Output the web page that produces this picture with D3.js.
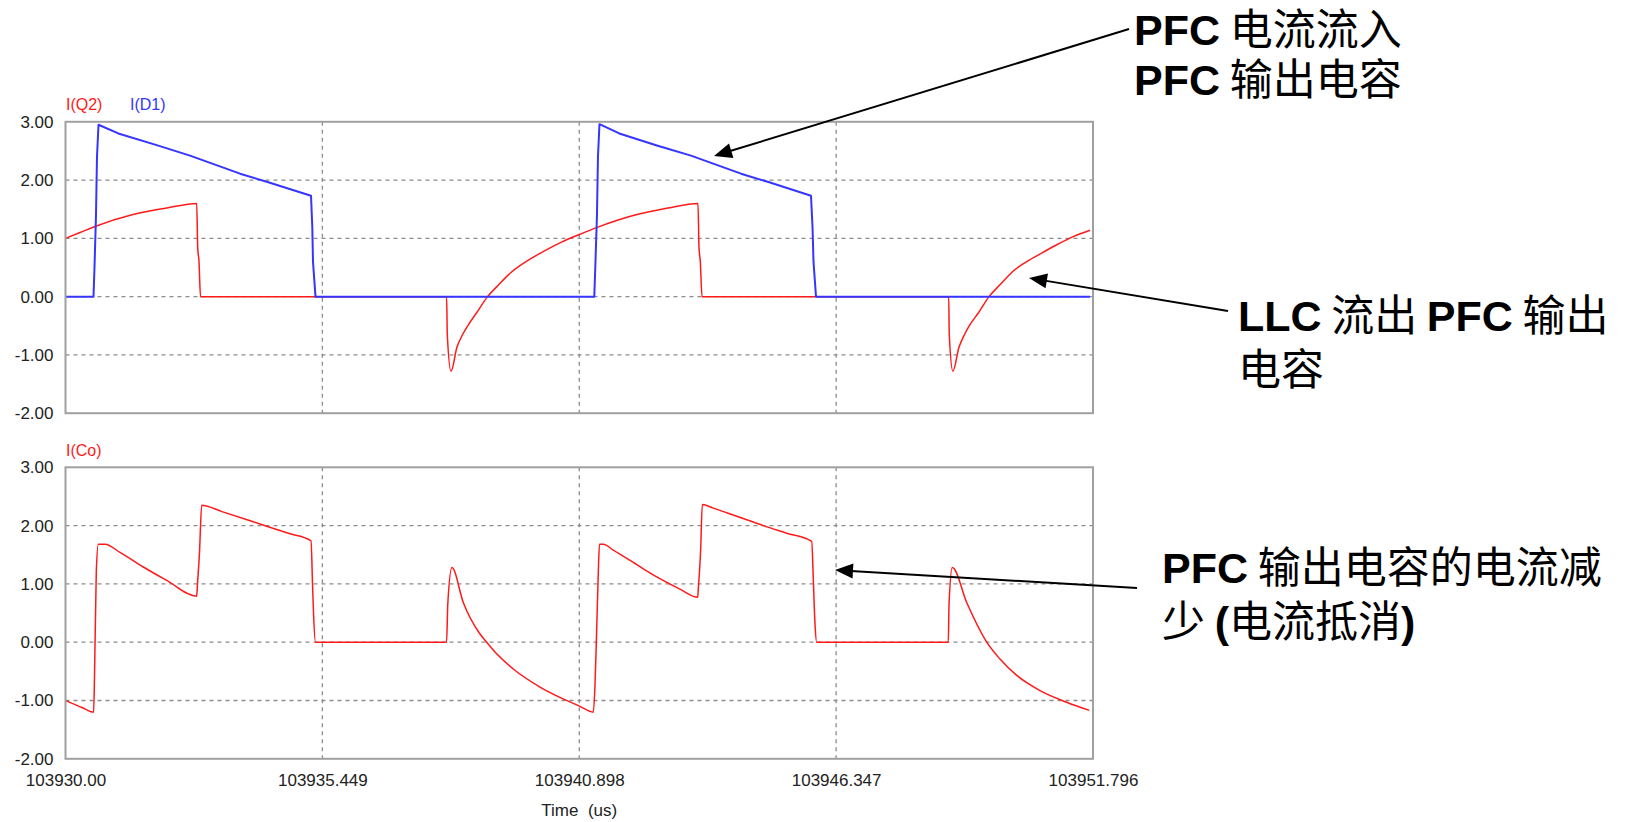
<!DOCTYPE html>
<html><head><meta charset="utf-8">
<script src="https://cdn.jsdelivr.net/npm/d3@7"></script>
<style>
html,body{margin:0;padding:0;background:#fff;}
svg{display:block;}
</style></head>
<body>
<svg id="chart" width="1632" height="822"></svg>
<script>
// ---------- data ----------
const timeDomain = [103930.00, 103951.796];
const xTickValues = [103930.00, 103935.449, 103940.898, 103946.347, 103951.796];
const xTickLabels = ["103930.00", "103935.449", "103940.898", "103946.347", "103951.796"];
const yTickValues = [-2, -1, 0, 1, 2, 3];
const yTickLabels = ["-2.00", "-1.00", "0.00", "1.00", "2.00", "3.00"];
const xAxisTitle = "Time  (us)";

// I(D1) – top panel, blue
const d1Time = [103930.000, 103930.594, 103930.615, 103930.647, 103930.668, 103930.700, 103931.120, 103931.935,
  103932.641, 103933.702, 103934.268, 103935.208, 103935.235, 103935.250, 103935.303,
  103941.217, 103941.238, 103941.274, 103941.295, 103941.327, 103941.747, 103942.562,
  103943.268, 103944.329, 103944.895, 103945.814, 103945.846, 103945.867, 103945.920, 103951.732];
const d1Value = [0, 0, 0.5, 1.4, 2.4, 2.95, 2.80, 2.60,
  2.42, 2.11, 1.97, 1.73, 1.2, 0.6, 0,
  0, 0.5, 1.4, 2.4, 2.96, 2.80, 2.59,
  2.42, 2.11, 1.97, 1.73, 1.2, 0.6, 0, 0];

// I(Q2) – top panel, red
const q2Time = [103930.000, 103930.308, 103930.611, 103931.432, 103932.147, 103932.783, 103932.804, 103932.832, 103932.864,
  103938.084, 103938.099, 103938.178, 103938.303, 103938.424, 103938.549, 103938.710, 103938.954,
  103939.196, 103939.444, 103939.768, 103940.171, 103940.532, 103940.914, 103941.253, 103942.080, 103942.780,
  103943.417, 103943.438, 103943.466, 103943.502,
  103948.735, 103948.747, 103948.824, 103948.953, 103949.070, 103949.186, 103949.356, 103949.590,
  103949.844, 103950.105, 103950.389, 103950.735, 103951.026, 103951.378, 103951.732];
const q2Value = [1.00, 1.10, 1.20, 1.41, 1.52, 1.60, 0.85, 0.60, 0,
  0, -0.65, -1.28, -0.87, -0.65, -0.48, -0.29, 0,
  0.21, 0.41, 0.60, 0.79, 0.94, 1.07, 1.18, 1.40, 1.52,
  1.60, 0.85, 0.60, 0,
  0, -0.65, -1.28, -0.87, -0.65, -0.48, -0.29, 0,
  0.22, 0.44, 0.60, 0.76, 0.89, 1.03, 1.14];

// I(Co) – bottom panel, red
const coTime = [103930.000, 103930.350, 103930.596, 103930.613, 103930.653, 103930.696, 103930.838, 103931.156,
  103931.650, 103932.147, 103932.783, 103932.800, 103932.843, 103932.889, 103933.320, 103934.268,
  103934.762, 103935.208, 103935.240, 103935.261, 103935.303,
  103938.084, 103938.109, 103938.198, 103938.438, 103938.793, 103938.935, 103939.147, 103939.499,
  103940.065, 103940.914, 103941.196, 103941.232, 103941.268, 103941.302, 103941.327, 103941.408,
  103941.620, 103942.117, 103942.541, 103943.035, 103943.411, 103943.424, 103943.474, 103943.508,
  103943.741, 103944.026, 103944.450, 103944.802, 103945.298, 103945.829, 103945.863, 103945.899, 103945.935,
  103948.727, 103948.742, 103948.812, 103949.117, 103949.542, 103949.823, 103950.178, 103950.672,
  103951.238, 103951.717];
const coValue = [-1.00, -1.12, -1.20, -0.70, 1.20, 1.68, 1.68, 1.54,
  1.29, 1.06, 0.79, 1.00, 1.55, 2.35, 2.24, 1.99,
  1.86, 1.74, 1.00, 0.50, 0,
  0, 0.65, 1.28, 0.68, 0.14, 0, -0.20, -0.46,
  -0.77, -1.10, -1.20, -0.74, 0.22, 1.19, 1.68, 1.68,
  1.58, 1.33, 1.12, 0.91, 0.77, 0.92, 1.60, 2.36,
  2.30, 2.22, 2.10, 2.00, 1.87, 1.73, 1.08, 0.31, 0,
  0, 0.65, 1.28, 0.68, 0, -0.29, -0.57, -0.83,
  -1.03, -1.17];

// annotations: each is a list of lines, each line a list of [text, isLatinBold]
const notes = [
  [[["PFC", true], [" 电流流入", false]],
   [["PFC", true], [" 输出电容", false]]],
  [[["LLC", true], [" 流出 ", false], ["PFC", true], [" 输出", false]],
   [["电容", false]]],
  [[["PFC", true], [" 输出电容的电流减", false]],
   [["少 ", false], ["(", true], ["电流抵消", false], [")", true]]]
];

// ---------- layout ----------
const svg = d3.select("#chart");
const plotLeft = 65.5, plotRight = 1093;
const panels = [
  { top: 121.8, bottom: 413.2 },
  { top: 467.3, bottom: 758.8 }
];
const RED = "#ff1a1a", BLUE = "#3535ff", FRAME = "#a0a0a0", GRID = "#8c8c8c", TXT = "#222";
const x = d3.scaleLinear().domain(timeDomain).range([plotLeft, plotRight]);

panels.forEach(p => {
  p.y = d3.scaleLinear().domain([-2, 3]).range([p.bottom, p.top]);
});

function drawPanel(p, showX) {
  const g = svg.append("g");
  g.selectAll(".hg").data(yTickValues.slice(1, -1)).enter().append("line")
    .attr("x1", plotLeft).attr("x2", plotRight)
    .attr("y1", d => p.y(d)).attr("y2", d => p.y(d))
    .attr("stroke", GRID).attr("stroke-width", 1.3).attr("stroke-dasharray", "4,4");
  g.selectAll(".vg").data(xTickValues.slice(1, -1)).enter().append("line")
    .attr("x1", d => x(d)).attr("x2", d => x(d))
    .attr("y1", p.top).attr("y2", p.bottom)
    .attr("stroke", GRID).attr("stroke-width", 1.3).attr("stroke-dasharray", "4,4");
  const ya = d3.axisLeft(p.y).tickValues(yTickValues)
    .tickFormat((d, i) => yTickLabels[i]).tickSize(0).tickPadding(12);
  const yg = g.append("g").attr("transform", `translate(${plotLeft},0)`).call(ya);
  yg.select(".domain").remove();
  yg.selectAll("text").attr("font-family", "Liberation Sans, Arial, sans-serif")
    .attr("font-size", 17).attr("fill", TXT);
  if (showX) {
    const xa = d3.axisBottom(x).tickValues(xTickValues)
      .tickFormat((d, i) => xTickLabels[i]).tickSize(0).tickPadding(15);
    const xg = g.append("g").attr("transform", `translate(0,${p.bottom})`).call(xa);
    xg.select(".domain").remove();
    xg.selectAll("text").attr("font-family", "Liberation Sans, Arial, sans-serif")
      .attr("font-size", 17).attr("fill", TXT);
  }
  return g;
}

drawPanel(panels[0], false);
drawPanel(panels[1], true);

function drawSeries(p, times, vals, color, width, curve) {
  const pts = times.map((t, i) => [t, vals[i]]);
  const line = d3.line().x(d => x(d[0])).y(d => p.y(d[1])).curve(curve);
  svg.append("path").datum(pts).attr("d", line)
    .attr("fill", "none").attr("stroke", color).attr("stroke-width", width)
    .attr("stroke-linejoin", "round");
}
drawSeries(panels[0], q2Time, q2Value, RED, 1.5, d3.curveMonotoneX);
drawSeries(panels[0], d1Time, d1Value, BLUE, 2, d3.curveLinear);
drawSeries(panels[1], coTime, coValue, RED, 1.5, d3.curveMonotoneX);

panels.forEach(p => {
  svg.append("rect").attr("x", plotLeft).attr("y", p.top)
    .attr("width", plotRight - plotLeft).attr("height", p.bottom - p.top)
    .attr("fill", "none").attr("stroke", FRAME).attr("stroke-width", 2);
});

const lf = "Liberation Sans, Arial, sans-serif";
svg.append("text").attr("x", 66).attr("y", 110).attr("font-family", lf).attr("font-size", 16).attr("fill", RED).text("I(Q2)");
svg.append("text").attr("x", 130).attr("y", 110).attr("font-family", lf).attr("font-size", 16).attr("fill", BLUE).text("I(D1)");
svg.append("text").attr("x", 66).attr("y", 456).attr("font-family", lf).attr("font-size", 16).attr("fill", RED).text("I(Co)");

svg.append("text").attr("x", (plotLeft + plotRight) / 2).attr("y", 816)
  .attr("text-anchor", "middle").attr("font-family", lf).attr("font-size", 17)
  .attr("fill", TXT).style("white-space", "pre").text(xAxisTitle);

// annotation text blocks: [x, firstBaseline, lineStep]
const notePos = [[1134, 45, 50], [1238, 331, 54], [1162, 583, 54]];
notes.forEach((lines, k) => {
  const [nx, ny, step] = notePos[k];
  const t = svg.append("text").attr("font-size", 43).attr("fill", "#000").style("white-space", "pre");
  lines.forEach((parts, li) => {
    parts.forEach(([s, bold], pi) => {
      const ts = t.append("tspan").text(s)
        .attr("font-family", bold ? "Liberation Sans, Arial, sans-serif" : "'Noto Sans CJK SC', 'Liberation Sans', sans-serif")
        .attr("font-weight", bold ? "bold" : "normal");
      if (pi === 0) ts.attr("x", nx).attr("y", ny + li * step);
    });
  });
});

// arrows [tailX, tailY, tipX, tipY]
const arrows = [[1129, 29, 714, 156], [1228, 311, 1029, 278], [1137, 588, 835, 570]];
arrows.forEach(([x1, y1, x2, y2]) => {
  const ang = Math.atan2(y2 - y1, x2 - x1);
  const L = 18, W = 7.5;
  const bx = x2 - L * Math.cos(ang), by = y2 - L * Math.sin(ang);
  svg.append("line").attr("x1", x1).attr("y1", y1).attr("x2", bx + 2 * Math.cos(ang)).attr("y2", by + 2 * Math.sin(ang))
    .attr("stroke", "#000").attr("stroke-width", 2);
  const px = -Math.sin(ang), py = Math.cos(ang);
  svg.append("path")
    .attr("d", `M${x2},${y2}L${bx + W * px},${by + W * py}L${bx - W * px},${by - W * py}Z`)
    .attr("fill", "#000");
});
</script>
</body></html>
